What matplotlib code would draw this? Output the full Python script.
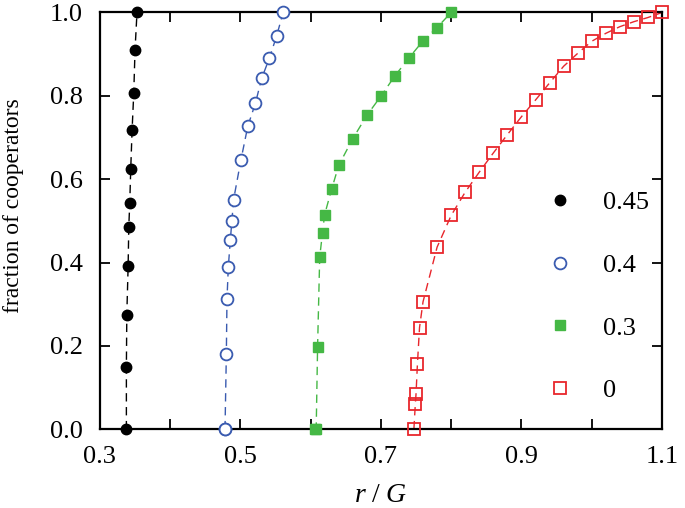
import matplotlib
matplotlib.use("Agg")
import matplotlib.pyplot as plt
from matplotlib.ticker import MultipleLocator

plt.rcParams['font.family'] = ['Liberation Serif', 'DejaVu Serif']
plt.rcParams['mathtext.fontset'] = 'custom'
plt.rcParams['mathtext.rm'] = 'Liberation Serif'
plt.rcParams['mathtext.it'] = 'Liberation Serif:italic'

# series: label -> (x, y)
x_045 = [0.338, 0.338, 0.3386, 0.3405, 0.3414, 0.3428, 0.3442, 0.3461, 0.3485, 0.3503, 0.3531]
y_045 = [0.0, 0.150, 0.274, 0.392, 0.485, 0.543, 0.625, 0.717, 0.807, 0.910, 1.0]

x_04 = [0.4783, 0.4783, 0.4802, 0.4811, 0.4830, 0.4858, 0.4881, 0.4905, 0.5008, 0.5107,
        0.5215, 0.5305, 0.5413, 0.5516, 0.5610]
y_04 = [0.0, 0.0, 0.180, 0.312, 0.389, 0.453, 0.500, 0.551, 0.645, 0.727,
        0.782, 0.842, 0.890, 0.943, 1.0]

x_03 = [0.606, 0.608, 0.610, 0.613, 0.617, 0.62, 0.63, 0.64, 0.66, 0.68, 0.70, 0.72, 0.74, 0.76, 0.78, 0.80]
y_03 = [0.0, 0.0, 0.198, 0.413, 0.472, 0.515, 0.576, 0.633, 0.697, 0.753, 0.799, 0.848, 0.891, 0.932, 0.964, 1.0]

x_0 = [0.747, 0.749, 0.750, 0.752, 0.755, 0.760, 0.78, 0.80, 0.82, 0.84, 0.86, 0.88, 0.90,
       0.92, 0.94, 0.96, 0.98, 1.00, 1.02, 1.04, 1.06, 1.08, 1.10]
y_0 = [0.0, 0.060, 0.084, 0.156, 0.244, 0.306, 0.437, 0.513, 0.569, 0.617, 0.663, 0.707, 0.750,
       0.790, 0.831, 0.871, 0.902, 0.931, 0.950, 0.966, 0.978, 0.988, 1.0]

labels = ['0.45', '0.4', '0.3', '0']

fig = plt.figure(figsize=(6.85, 5.08), dpi=100)
ax = fig.add_axes([0.1455, 0.155, 0.821, 0.8204])

dash = (6, 4)
ax.plot(x_045, y_045, color='black', lw=1.0, dashes=dash, zorder=1)
ax.plot(x_045, y_045, 'o', color='black', ms=7.5, ls='none', label=labels[0], clip_on=False, zorder=3)

ax.plot(x_04, y_04, color='#3a5bb0', lw=1.0, dashes=dash, zorder=1)
ax.plot(x_04, y_04, 'o', mfc='white', mec='#3a5bb0', mew=1.3, ms=8.5, ls='none',
        label=labels[1], clip_on=False, zorder=3)

ax.plot(x_03, y_03, color='#45b845', lw=1.0, dashes=dash, zorder=1)
ax.plot(x_03, y_03, 's', color='#45b845', ms=7.2, ls='none', label=labels[2], clip_on=False, zorder=3)

ax.plot(x_0, y_0, color='#e8262c', lw=1.0, dashes=dash, zorder=1)
ax.plot(x_0, y_0, 's', mfc='none', mec='#e8262c', mew=1.3, ms=8.5, ls='none',
        label=labels[3], clip_on=False, zorder=3)

ax.set_xlim(0.3, 1.1)
ax.set_ylim(0.0, 1.0)
ax.set_xticks([0.3, 0.5, 0.7, 0.9, 1.1])
ax.xaxis.set_minor_locator(MultipleLocator(0.1))
ax.set_yticks([0.0, 0.2, 0.4, 0.6, 0.8, 1.0])
ax.set_xticklabels(['0.3', '0.5', '0.7', '0.9', '1.1'])
ax.set_yticklabels(['0.0', '0.2', '0.4', '0.6', '0.8', '1.0'])
ax.tick_params(which='both', direction='in', top=True, right=True, width=1.3, labelsize=19)
ax.tick_params(which='major', length=7)
ax.tick_params(which='minor', length=7)
ax.tick_params(axis='x', pad=12)
ax.tick_params(axis='y', pad=12)
for s in ax.spines.values():
    s.set_linewidth(1.6)

ax.set_xlabel(r'$r\ \mathrm{/}\ G$', fontsize=20)
ax.xaxis.set_label_coords(0.5, -0.128)
ax.set_ylabel('fraction of cooperators', fontsize=17)
ax.yaxis.set_label_coords(-0.135, 0.536)

leg = ax.legend(loc='lower right', bbox_to_anchor=(1.009, 0.02), frameon=False, fontsize=19,
                handletextpad=0.6, labelspacing=1.49, borderaxespad=0.3)

fig.savefig('out.png', dpi=100)
